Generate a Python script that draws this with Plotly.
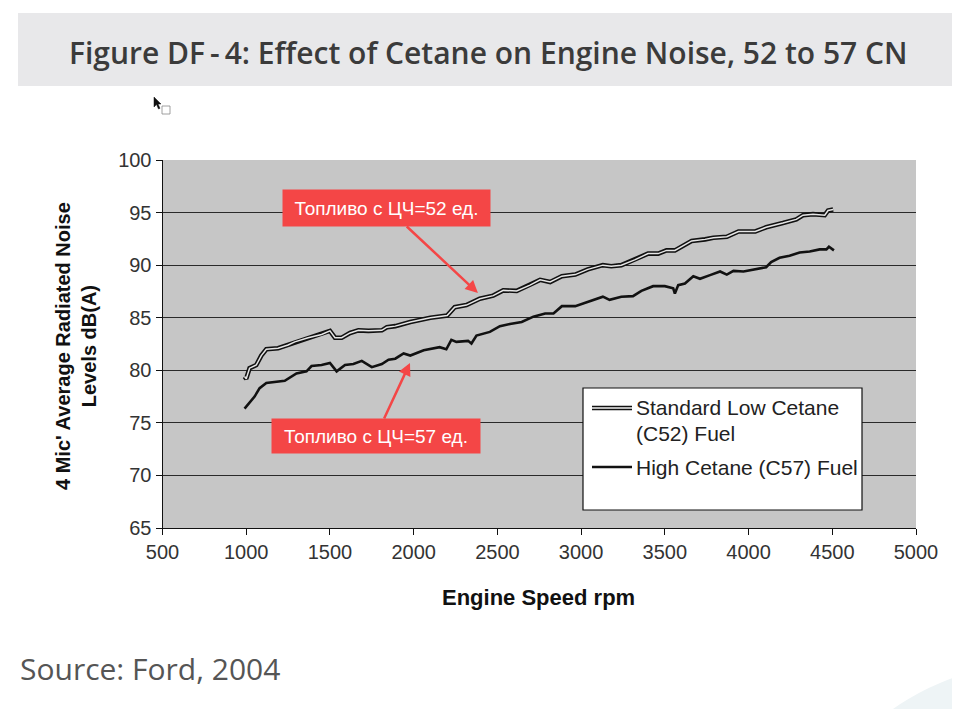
import plotly.graph_objects as go

# ---------------- data ----------------
rpm_c52 = [990, 1000, 1020, 1060, 1090, 1120, 1190, 1250, 1290, 1370, 1450, 1500, 1530, 1570,
           1620, 1670, 1730, 1810, 1840, 1890, 1980, 2100, 2200, 2245, 2315, 2395, 2475, 2535,
           2615, 2695, 2755, 2815, 2885, 2965, 3040, 3130, 3180, 3240, 3320, 3400, 3460, 3510,
           3560, 3600, 3660, 3740, 3790, 3870, 3940, 4040, 4105, 4205, 4285, 4325, 4385, 4455,
           4475, 4505]
db_c52 = [79.4, 79.2, 80.2, 80.5, 81.4, 82.0, 82.1, 82.4, 82.7, 83.1, 83.4, 83.75, 83.1, 83.1,
          83.55, 83.8, 83.75, 83.8, 84.1, 84.2, 84.6, 85.0, 85.2, 86.0, 86.2, 86.8, 87.1, 87.6,
          87.55, 88.1, 88.6, 88.4, 88.95, 89.1, 89.6, 90.0, 89.9, 90.0, 90.5, 91.1, 91.1, 91.4,
          91.4, 91.75, 92.3, 92.45, 92.6, 92.7, 93.2, 93.2, 93.6, 94.0, 94.35, 94.75, 94.85, 94.75,
          95.2, 95.3]

rpm_c57 = [990, 1010, 1050, 1080, 1120, 1230, 1300, 1360, 1390, 1450, 1500, 1540, 1590, 1640,
           1690, 1750, 1810, 1850, 1890, 1940, 1980, 2060, 2155, 2195, 2225, 2255, 2325, 2345,
           2375, 2455, 2515, 2575, 2645, 2715, 2785, 2835, 2885, 2965, 3040, 3130, 3170, 3240,
           3310, 3360, 3430, 3500, 3550, 3560, 3580, 3620, 3670, 3710, 3770, 3830, 3870, 3910,
           3970, 4035, 4105, 4135, 4185, 4245, 4305, 4365, 4425, 4465, 4480, 4510]
db_c57 = [76.35, 76.7, 77.5, 78.3, 78.8, 79.0, 79.7, 79.9, 80.4, 80.5, 80.7, 79.9, 80.5, 80.6,
          80.9, 80.3, 80.6, 81.0, 81.1, 81.6, 81.4, 81.9, 82.2, 82.0, 82.9, 82.7, 82.8, 82.55,
          83.3, 83.65, 84.2, 84.4, 84.6, 85.1, 85.4, 85.4, 86.1, 86.1, 86.5, 87.0, 86.7, 87.0,
          87.05, 87.55, 88.0, 88.0, 87.8, 87.3, 88.1, 88.25, 88.95, 88.7, 89.05, 89.4, 89.1, 89.45,
          89.4, 89.6, 89.8, 90.3, 90.7, 90.9, 91.2, 91.3, 91.5, 91.5, 91.75, 91.4]

x_ticks = [500, 1000, 1500, 2000, 2500, 3000, 3500, 4000, 4500, 5000]
y_ticks = [65, 70, 75, 80, 85, 90, 95, 100]

title_text = "Figure DF\u2009-\u20094: Effect of Cetane on Engine Noise, 52 to 57 CN"
source_text = "Source: Ford, 2004"
x_title = "Engine Speed rpm"
y_title = "4 Mic' Average Radiated Noise<br>Levels dB(A)"
legend_c52 = ["Standard Low Cetane", "(C52) Fuel"]
legend_c57 = "High Cetane (C57) Fuel"
callout_52 = "Топливо с ЦЧ=52 ед."
callout_57 = "Топливо с ЦЧ=57 ед."
# callout arrow targets (rpm, dB)
target_52 = (2384, 87.35)
target_57 = (1978, 80.7)

W, H = 960, 709
OFF = 8  # page body margin


def px(x):
    return (x - OFF) / W


def py(y):
    return 1 - (y - OFF) / H


TICK_FONT = "Arial, Liberation Sans, sans-serif"

fig = go.Figure()

# double line for C52: dark outer, light inner
fig.add_trace(go.Scatter(x=rpm_c52, y=db_c52, mode="lines",
                         line=dict(color="#111111", width=4.6), hoverinfo="skip"))
fig.add_trace(go.Scatter(x=rpm_c52, y=db_c52, mode="lines",
                         line=dict(color="#e6e6e6", width=1.5), hoverinfo="skip"))
fig.add_trace(go.Scatter(x=rpm_c57, y=db_c57, mode="lines",
                         line=dict(color="#111111", width=2.6), hoverinfo="skip"))

fig.update_layout(
    width=W, height=H,
    margin=dict(l=0, r=0, t=0, b=0, pad=0, autoexpand=False),
    paper_bgcolor="white",
    plot_bgcolor="#c6c6c6",
    showlegend=False,
    xaxis=dict(domain=[px(162.5), px(916)], range=[500, 5000], tickvals=x_ticks,
               ticks="outside", ticklen=6, tickcolor="#111", showline=True,
               linecolor="#111", linewidth=1, showgrid=False, zeroline=False, automargin=False,
               tickfont=dict(family=TICK_FONT, size=20, color="#333")),
    yaxis=dict(domain=[py(528), py(160)], range=[65, 100], tickvals=y_ticks,
               ticks="outside", ticklen=6, tickcolor="#111", showline=True,
               linecolor="#111", linewidth=1, showgrid=True, gridcolor="#2a2a2a",
               gridwidth=1.2, zeroline=False, automargin=False,
               tickfont=dict(family=TICK_FONT, size=20, color="#333")),
)

shapes = []
# title band
shapes.append(dict(type="rect", xref="paper", yref="paper", x0=px(18), x1=px(975),
                   y0=py(86), y1=py(13), fillcolor="#e8e8ea", line=dict(width=0), layer="below"))
# decorative circle at bottom right
shapes.append(dict(type="circle", xref="paper", yref="paper", x0=px(1030 - 235), x1=px(1030 + 235),
                   y0=py(900 + 235), y1=py(900 - 235), fillcolor="#eef4f6",
                   line=dict(width=0), layer="below"))
# legend box
shapes.append(dict(type="rect", xref="paper", yref="paper", x0=px(583), x1=px(862),
                   y0=py(510), y1=py(388), fillcolor="white", line=dict(color="#111", width=1.2)))
# legend samples
shapes.append(dict(type="line", xref="paper", yref="paper", x0=px(592), x1=px(632),
                   y0=py(408), y1=py(408), line=dict(color="#111", width=4.6)))
shapes.append(dict(type="line", xref="paper", yref="paper", x0=px(592), x1=px(632),
                   y0=py(408), y1=py(408), line=dict(color="#f2f2f2", width=1.5)))
shapes.append(dict(type="line", xref="paper", yref="paper", x0=px(592), x1=px(632),
                   y0=py(467), y1=py(467), line=dict(color="#111", width=2.6)))
# mouse cursor glyph
shapes.append(dict(type="path", xref="paper", yref="paper",
                   path="M {} {} L {} {} L {} {} L {} {} L {} {} L {} {} L {} {} Z".format(
                       px(154), py(97), px(154), py(107), px(156.5), py(104.5),
                       px(158.5), py(109), px(160), py(108.3), px(158), py(104), px(161), py(104)),
                   fillcolor="#111", line=dict(color="#111", width=0.5)))
shapes.append(dict(type="rect", xref="paper", yref="paper", x0=px(162), x1=px(170),
                   y0=py(114), y1=py(106), fillcolor="white", line=dict(color="#888", width=0.8)))
fig.update_layout(shapes=shapes)

ann = []
ann.append(dict(text=title_text, xref="paper", yref="paper", x=px(488), y=py(52),
                showarrow=False, xanchor="center", yanchor="middle",
                font=dict(family="Open Sans, Lato, sans-serif", size=30, color="#3b3b3b",
                          weight=600)))
ann.append(dict(text=source_text, xref="paper", yref="paper", x=px(18), y=py(668),
                showarrow=False, xanchor="left", yanchor="middle",
                font=dict(family="Open Sans, Lato, sans-serif", size=30, color="#555",
                          weight=400)))
ann.append(dict(text="<b>" + x_title + "</b>", xref="paper", yref="paper", x=px(538), y=py(597),
                showarrow=False, xanchor="center", yanchor="middle",
                font=dict(family="Arial, Liberation Sans", size=22, color="#111")))
ann.append(dict(text="<b>" + y_title + "</b>", xref="paper", yref="paper", x=px(76), y=py(346),
                showarrow=False, xanchor="center", yanchor="middle", textangle=-90,
                font=dict(family="Arial, Liberation Sans", size=20, color="#111")))
# legend texts
LEG_FONT = dict(family=TICK_FONT, size=21, color="#222")
ann.append(dict(text=legend_c52[0], xref="paper", yref="paper", x=px(634), y=py(407),
                showarrow=False, xanchor="left", yanchor="middle", font=LEG_FONT))
ann.append(dict(text=legend_c52[1], xref="paper", yref="paper", x=px(634), y=py(434),
                showarrow=False, xanchor="left", yanchor="middle", font=LEG_FONT))
ann.append(dict(text=legend_c57, xref="paper", yref="paper", x=px(634), y=py(467),
                showarrow=False, xanchor="left", yanchor="middle", font=LEG_FONT))
# callouts
RED = "#f44646"
ann.append(dict(text=callout_52, x=target_52[0], y=target_52[1], xref="x", yref="y",
                showarrow=True, ax=-91, ay=-85, arrowcolor=RED, arrowwidth=2.5,
                arrowhead=2, arrowsize=1, bgcolor=RED, width=199, height=28, borderpad=4,
                font=dict(family="Arial, Liberation Sans", size=19, color="white")))
ann.append(dict(text=callout_57, x=target_57[0], y=target_57[1], xref="x", yref="y",
                showarrow=True, ax=-34, ay=73, arrowcolor=RED, arrowwidth=2.5,
                arrowhead=2, arrowsize=1, bgcolor=RED, width=200, height=26, borderpad=4,
                font=dict(family="Arial, Liberation Sans", size=19, color="white")))
fig.update_layout(annotations=ann)

fig.write_html("out.html")
